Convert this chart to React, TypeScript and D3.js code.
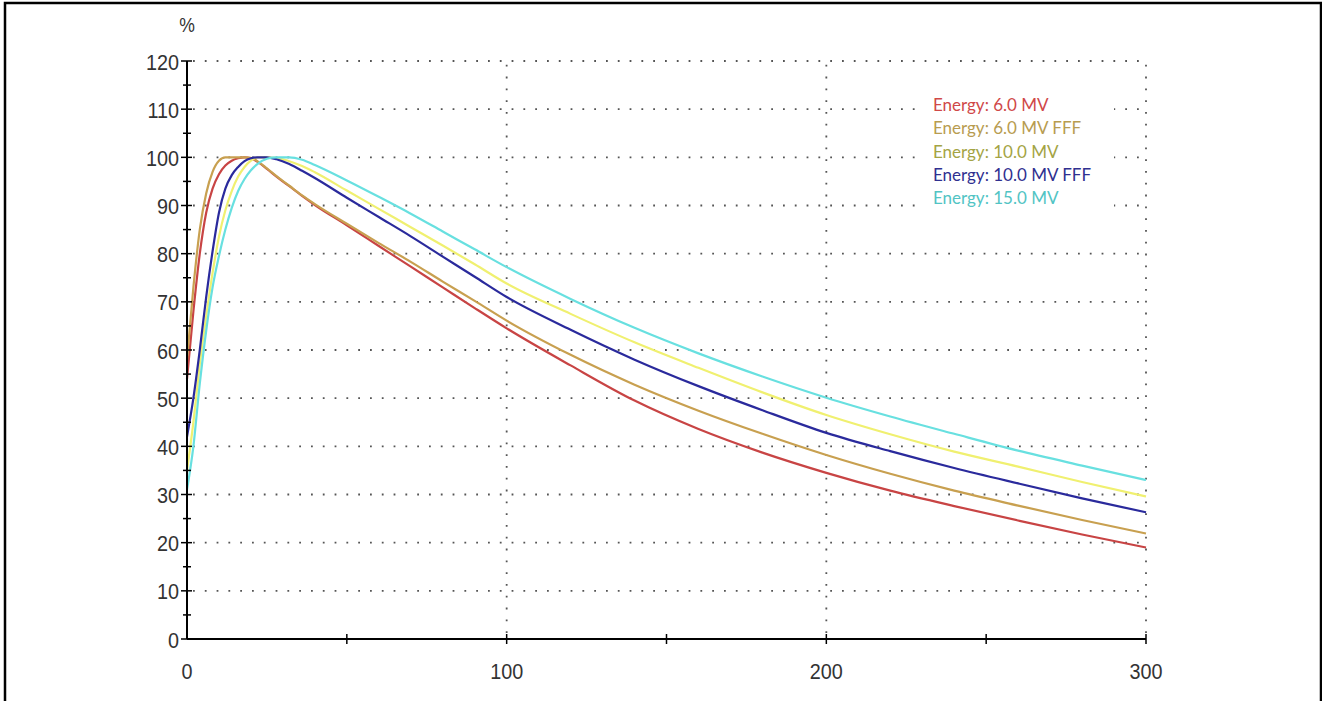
import React, { useEffect, useRef } from 'react'
import * as d3 from 'd3'

// depth samples (mm) shared by every curve
const depth = [0, 2, 4, 6, 8, 10, 12, 14, 16, 18, 20, 22, 25, 28, 32, 36, 40, 50, 60, 70, 80, 90, 100, 120, 140, 160, 180, 200, 220, 240, 260, 280, 300]

const mv6 = [54, 68, 80, 88.5, 93.5, 96.5, 98.3, 99.3, 99.8, 100, 99.8, 99.1, 97.6, 96, 94, 92, 90.1, 85.9, 81.6, 77.3, 73, 68.7, 64.5, 56.8, 49.5, 43.6, 38.7, 34.5, 30.8, 27.6, 24.6, 21.7, 19]
const mv6fff = [58, 73, 85, 92.5, 97, 99.3, 100, 100, 100, 100, 99.9, 99.2, 97.7, 96.1, 94.1, 92.1, 90.3, 86.2, 82.2, 78.3, 74.2, 70.2, 66.1, 59, 52.8, 47.4, 42.6, 38.2, 34.3, 30.8, 27.7, 24.7, 21.9]
const mv10 = [35, 45, 57, 67, 76, 83.5, 89, 93, 96, 98, 99.3, 100, 100, 99.9, 99.2, 98.2, 96.9, 93.1, 89.3, 85.5, 81.7, 77.8, 73.8, 67.5, 61.6, 56.3, 51.2, 46.5, 42.5, 38.9, 35.8, 32.6, 29.6]
const mv10fff = [42, 50, 60, 71, 80.5, 88.5, 93.5, 96.3, 98, 99.2, 99.8, 100, 100, 99.6, 98.6, 97.2, 95.7, 91.6, 87.6, 83.6, 79.4, 75.2, 71, 64.2, 58, 52.5, 47.5, 42.8, 39, 35.5, 32.3, 29.2, 26.3]
const mv15 = [31, 40, 53, 64, 73, 79.5, 85, 89.5, 93, 95.5, 97.3, 98.6, 99.7, 100, 100, 99.5, 98.4, 95.2, 91.8, 88.3, 84.6, 80.9, 77.2, 70.6, 64.6, 59.3, 54.5, 50.1, 46.2, 42.6, 39.1, 36, 33]

const seriesNames = ['Energy: 6.0 MV', 'Energy: 6.0 MV FFF', 'Energy: 10.0 MV', 'Energy: 10.0 MV FFF', 'Energy: 15.0 MV']
const seriesValues = [mv6, mv6fff, mv10, mv10fff, mv15]
const lineColors = ['#c84444', '#c8a050', '#f0f070', '#2a2a9c', '#68e0e0']
const textColors = ['#d04848', '#b89c50', '#a4a444', '#303090', '#52c4c4']

const yTicks = d3.range(0, 121, 10)
const yMinor = d3.range(5, 120, 10)
const xLabels = [0, 100, 200, 300]
const xTicks = d3.range(50, 301, 50)

const W = 1322, H = 701
const margin = { top: 61, right: 176, bottom: 62, left: 187 }

const App = () => {
    const ref = useRef<SVGSVGElement>(null)

    useEffect(() => {
        const svg = d3.select(ref.current)
        svg.selectAll('*').remove()

        const x = d3.scaleLinear().domain([0, 300]).range([margin.left, W - margin.right])
        const y = d3.scaleLinear().domain([0, 120]).range([H - margin.bottom, margin.top])
        const labelFont = "'Liberation Sans', Arial, sans-serif"

        // frame
        svg.append('path')
            .attr('d', `M5,${H} V3 H1321 V${H}`)
            .attr('fill', 'none')
            .attr('stroke', '#000')
            .attr('stroke-width', 2.5)

        // dotted grid
        const grid = svg.append('g')
        grid.selectAll('.hgrid')
            .data(yTicks.filter(t => t > 0))
            .enter()
            .append('line')
            .attr('x1', x(0) + 6)
            .attr('x2', x(300))
            .attr('y1', d => y(d))
            .attr('y2', d => y(d))
        grid.selectAll('.vgrid')
            .data(xLabels.filter(t => t > 0))
            .enter()
            .append('line')
            .attr('x1', d => x(d))
            .attr('x2', d => x(d))
            .attr('y1', y(0) - 6)
            .attr('y2', y(120))
        grid.selectAll('line')
            .attr('stroke', '#555')
            .attr('stroke-width', 1.8)
            .attr('stroke-dasharray', '1.8,10')

        // legend box hides the grid behind it
        svg.append('rect')
            .attr('x', 924)
            .attr('y', 88)
            .attr('width', 190)
            .attr('height', 124)
            .attr('fill', '#fff')

        // curves
        const line = d3.line<number>()
            .x((d, i) => x(depth[i]))
            .y(d => y(d))
            .curve(d3.curveMonotoneX)
        svg.append('g')
            .selectAll('path')
            .data(seriesValues)
            .enter()
            .append('path')
            .attr('d', d => line(d))
            .attr('fill', 'none')
            .attr('stroke', (d, i) => lineColors[i])
            .attr('stroke-width', 2.2)

        // axes
        const axes = svg.append('g').attr('stroke', '#000')
        axes.append('line')
            .attr('x1', x(0)).attr('x2', x(0))
            .attr('y1', y(0)).attr('y2', y(120))
            .attr('stroke-width', 2)
        axes.append('line')
            .attr('x1', x(0)).attr('x2', x(300))
            .attr('y1', y(0)).attr('y2', y(0))
            .attr('stroke-width', 2)
        axes.selectAll('.ymaj')
            .data(yTicks)
            .enter()
            .append('line')
            .attr('x1', x(0) - 6).attr('x2', x(0) + 5)
            .attr('y1', d => y(d)).attr('y2', d => y(d))
            .attr('stroke-width', 1.5)
        axes.selectAll('.ymin')
            .data(yMinor)
            .enter()
            .append('line')
            .attr('x1', x(0) - 4).attr('x2', x(0) + 4)
            .attr('y1', d => y(d)).attr('y2', d => y(d))
            .attr('stroke-width', 1.5)
        axes.selectAll('.xt')
            .data(xTicks)
            .enter()
            .append('line')
            .attr('x1', d => x(d)).attr('x2', d => x(d))
            .attr('y1', y(0) - 5).attr('y2', y(0) + 5)
            .attr('stroke-width', 1.5)

        // tick labels (slightly condensed like the original)
        svg.append('g')
            .selectAll('text')
            .data(yTicks)
            .enter()
            .append('text')
            .attr('transform', d => `translate(${x(0) - 8},${y(d) + 8.5}) scale(0.88,1)`)
            .attr('text-anchor', 'end')
            .attr('font-family', labelFont)
            .attr('font-size', 22.5)
            .attr('fill', '#333')
            .text(d => d)
        svg.append('g')
            .selectAll('text')
            .data(xLabels)
            .enter()
            .append('text')
            .attr('transform', d => `translate(${x(d)},679) scale(0.88,1)`)
            .attr('text-anchor', 'middle')
            .attr('font-family', labelFont)
            .attr('font-size', 22.5)
            .attr('fill', '#333')
            .text(d => d)
        svg.append('text')
            .attr('transform', `translate(${x(0)},32) scale(0.88,1)`)
            .attr('text-anchor', 'middle')
            .attr('font-family', labelFont)
            .attr('font-size', 20)
            .attr('fill', '#333')
            .text('%')

        // legend
        svg.append('g')
            .selectAll('text')
            .data(seriesNames)
            .enter()
            .append('text')
            .attr('x', 933)
            .attr('y', (d, i) => 111 + i * 23.3)
            .attr('font-family', "Lato, 'Open Sans', sans-serif")
            .attr('font-size', 17)
            .attr('fill', (d, i) => textColors[i])
            .text(d => d)
    }, [])

    return (
        <>
            <style>{'body{margin:0;background:#fff}'}</style>
            <svg ref={ref} width={W} height={H} style={{ display: 'block' }} />
        </>
    )
}

export default App
